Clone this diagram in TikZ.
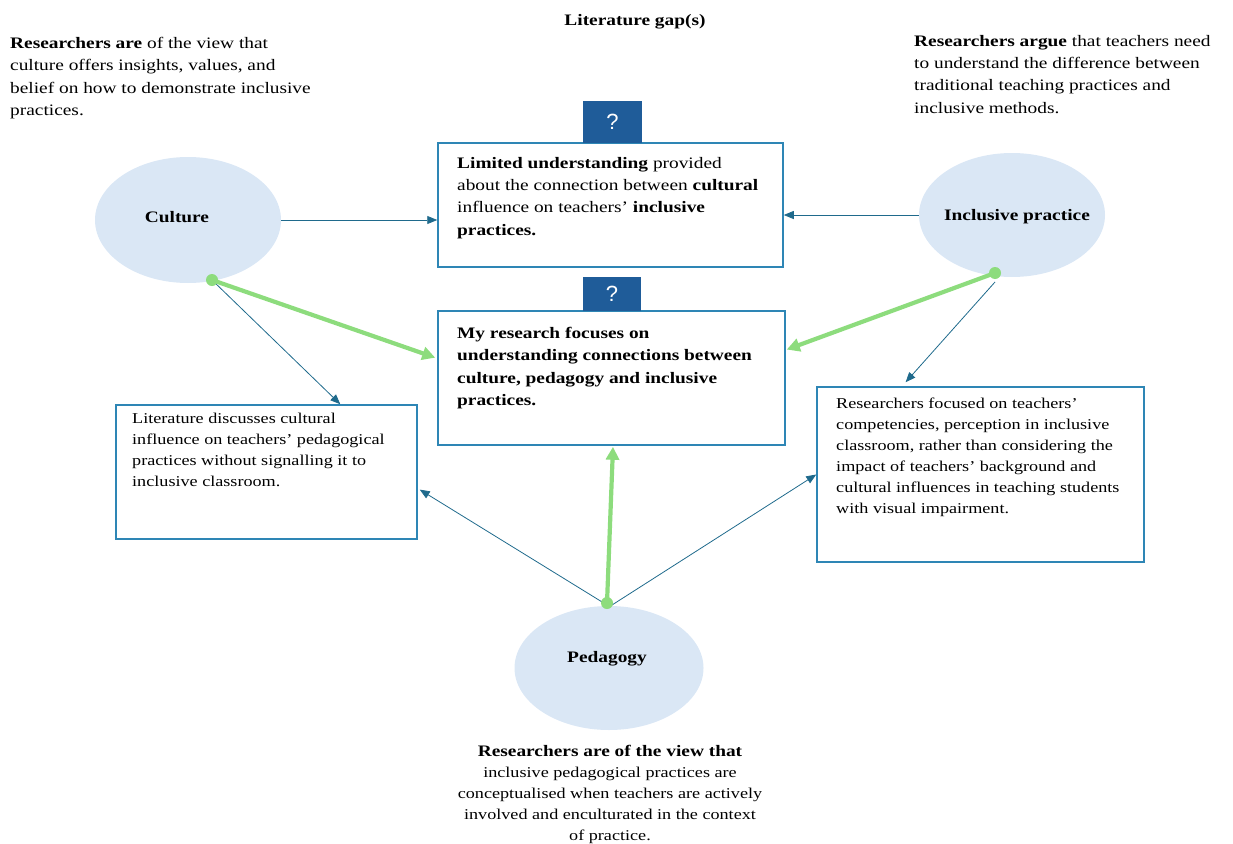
\documentclass[tikz,border=0pt]{standalone}
\usepackage{fontspec}
\setmainfont{Liberation Serif}[FakeStretch=1.21]
\newfontfamily\qfont{Liberation Sans}
\usetikzlibrary{shapes.geometric,arrows.meta,calc}
\definecolor{boxblue}{RGB}{46,134,181}
\definecolor{arrblue}{RGB}{31,106,140}
\definecolor{qblue}{RGB}{31,92,153}
\definecolor{ellfill}{RGB}{218,231,245}
\definecolor{lgreen}{RGB}{141,220,125}
\begin{document}
\begin{tikzpicture}[x=1pt,y=-1pt,
  txt/.style={inner sep=0pt, align=left, anchor=north west, font=\fontsize{16}{22.3}\selectfont},
  stxt/.style={inner sep=0pt, align=left, anchor=north west, font=\fontsize{15}{20.9}\selectfont},
  gapbox/.style={draw=boxblue, line width=1.5pt, rectangle, inner sep=0pt},
  qbox/.style={fill=qblue, rectangle, inner sep=0pt, text=white, font=\qfont\fontsize{22}{22}\selectfont},
  concept/.style={ellipse, fill=ellfill, inner sep=0pt},
  elabel/.style={inner sep=0pt, anchor=base, font=\fontsize{16}{20}\selectfont\bfseries},
  thin/.style={draw=arrblue, line width=0.8pt, -{Triangle[length=10pt,width=8pt]}},
  thick/.style={draw=lgreen, line width=4.2pt, -{Triangle[length=13pt,width=13pt]}},
  gdot/.style={circle, fill=lgreen, inner sep=0pt, minimum size=12pt}
]
\useasboundingbox (0,0) rectangle (1233,843);

% title
\node[inner sep=0pt, anchor=base, font=\fontsize{16}{20}\selectfont\bfseries] (title) at (635,26) {Literature gap(s)};

% side texts
\node[txt] (tl) at (10,37) {\textbf{Researchers are} of the view that\\culture offers insights, values, and\\belief on how to demonstrate inclusive\\practices.};
\node[txt] (tr) at (914,35) {\textbf{Researchers argue} that teachers need\\to understand the difference between\\traditional teaching practices and\\inclusive methods.};

% concept ellipses
\node[concept, minimum width=186pt, minimum height=126pt] (cul) at (188,220) {};
\node[elabel] (culT) at (177,222) {Culture};
\node[concept, minimum width=186pt, minimum height=124pt] (inc) at (1012,215) {};
\node[elabel] (incT) at (1017,220) {Inclusive practice};
\node[concept, minimum width=189pt, minimum height=124pt] (ped) at (609,668) {};
\node[elabel] (pedT) at (607,662) {Pedagogy};

% boxes
\node[gapbox, minimum width=345pt, minimum height=124pt] (box1) at (610.5,205) {};
\node[gapbox, minimum width=347pt, minimum height=134pt] (box2) at (611.5,378) {};
\node[gapbox, minimum width=301pt, minimum height=134pt] (box3) at (266.5,472) {};
\node[gapbox, minimum width=327pt, minimum height=175pt] (box4) at (980.5,474.5) {};

\node[qbox, minimum width=59pt, minimum height=42pt] (q1) at (612.5,122) {?};
\node[qbox, minimum width=58pt, minimum height=34pt] (q2) at (612,294) {?};

% box texts
\node[txt] (t1) at (457,157) {\textbf{Limited understanding} provided\\about the connection between \textbf{cultural}\\influence on teachers' \textbf{inclusive}\\\textbf{practices.}};
\node[txt, font=\fontsize{16}{22.3}\selectfont\bfseries] (t2) at (457,327) {My research focuses on\\understanding connections between\\culture, pedagogy and inclusive\\practices.};
\node[stxt] (t3) at (132,413) {Literature discusses cultural\\influence on teachers' pedagogical\\practices without signalling it to\\inclusive classroom.};
\node[stxt] (t4) at (836,398) {Researchers focused on teachers'\\competencies, perception in inclusive\\classroom, rather than considering the\\impact of teachers' background and\\cultural influences in teaching students\\with visual impairment.};

% bottom text
\node[inner sep=0pt, align=center, anchor=north, font=\fontsize{15}{21.1}\selectfont] (bt) at (610,745) {{\fontsize{16}{21.1}\selectfont\bfseries Researchers are of the view that}\\inclusive pedagogical practices are\\conceptualised when teachers are actively\\involved and enculturated in the context\\of practice.};

% connection points
\coordinate (culD) at (212,280);
\coordinate (incD) at (995,273);
\coordinate (incS) at (995,282);
\coordinate (pedD) at (607,603);
\coordinate (pedL) at (607,605);
\coordinate (pedR) at (612,605);

% thin connectors
\draw[thin] (cul.east) -- (cul.east -| box1.west);
\draw[thin] (inc.west) -- (inc.west -| box1.east);
\draw[thin] (culD) -- ($(box3.north west)!0.744!(box3.north east)$);
\draw[thin] (incS) -- ($(box4.north west)!0.272!(box4.north east)+(0,-4)$);
\draw[thin] (pedL) -- ($(box3.north east)!0.63!(box3.south east)+(2,0)$);
\draw[thin] (pedR) -- (box4.west);

% thick green connectors
\draw[thick] (culD) -- ($(box2.north west)!0.35!(box2.south west)+(-2,0)$);
\draw[thick] (incD) -- ($(box2.north east)!0.29!(box2.south east)+(1,0)$);
\draw[thick] (pedD) -- ($(box2.south)+(1.5,1)$);

\node[gdot] (d1) at (culD) {};
\node[gdot] (d2) at (incD) {};
\node[gdot] (d3) at (pedD) {};
\end{tikzpicture}
\end{document}
